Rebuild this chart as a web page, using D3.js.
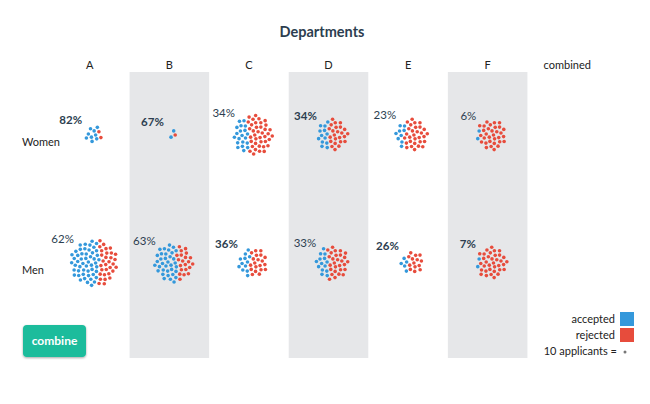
<!DOCTYPE html>
<html><head><meta charset="utf-8">
<script src="https://cdn.jsdelivr.net/npm/d3@7"></script>
<style>
html,body{margin:0;padding:0;background:#fff;}
svg{display:block;font-family:Lato,"Open Sans",sans-serif;}
</style></head>
<body><svg id="chart" width="650" height="404"></svg>
<script>
const departments = ["A","B","C","D","E","F"];
const columns = ["A","B","C","D","E","F","combined"];
const genders = ["Women","Men"];
const womenAccepted = [9,2,20,13,9,2];
const womenRejected = [2,1,39,24,30,32];
const menAccepted = [51,35,12,14,5,2];
const menRejected = [31,21,20,28,14,35];
const womenPct = [82,67,34,34,23,6];
const menPct = [62,63,36,33,26,7];
const legendLabels = ["accepted","rejected"];

const BLUE = "#3498db", RED = "#e74c3c", TEXT = "#2c3e50";
const svg = d3.select("#chart");

const x = d3.scaleBand().domain(columns).range([50, 607]);
const y = d3.scalePoint().domain(genders).range([135, 263]);
const shaded = ["B","D","F"];

svg.selectAll("rect.band").data(shaded).join("rect")
  .attr("x", d => x(d)).attr("y", 72).attr("width", x.bandwidth()).attr("height", 286)
  .attr("fill", "#e6e7e9");

svg.append("text").attr("x", 322).attr("y", 37).attr("text-anchor","middle")
  .attr("font-size", 14.5).attr("font-weight", "bold").attr("fill", TEXT).text("Departments");

svg.selectAll("text.col").data(columns).join("text")
  .attr("x", d => x(d) + x.bandwidth()/2).attr("y", 69).attr("text-anchor","middle")
  .attr("font-size", 11).attr("fill", "#222").text(d => d);

svg.selectAll("text.row").data(genders).join("text")
  .attr("x", 22).attr("y", d => y(d) + 11).attr("font-size", 11).attr("fill", "#222").text(d => d);

const c = 2.6, golden = Math.PI * (3 - Math.sqrt(5));
function cluster(acc, rej) {
  const n = acc + rej;
  const pts = d3.range(n).map(i => {
    const r = c * Math.sqrt(i + 0.5), a = i * golden;
    return {x: r * Math.cos(a), y: r * Math.sin(a)};
  });
  pts.sort((p, q) => p.x - q.x);
  pts.forEach((p, i) => p.acc = i < acc);
  return {pts, r: c * Math.sqrt(n)};
}

const groups = [];
departments.forEach((d, i) => {
  groups.push({dept: d, g: "Women", acc: womenAccepted[i], rej: womenRejected[i], pct: womenPct[i], bold: womenPct[i] > menPct[i]});
  groups.push({dept: d, g: "Men", acc: menAccepted[i], rej: menRejected[i], pct: menPct[i], bold: menPct[i] > womenPct[i]});
});

groups.forEach(gr => {
  const cl = cluster(gr.acc, gr.rej);
  const cx = x(gr.dept) + x.bandwidth()/2 + 4, cy = y(gr.g);
  const g = svg.append("g").attr("transform", `translate(${cx},${cy})`);
  g.selectAll("circle").data(cl.pts).join("circle")
    .attr("cx", p => p.x).attr("cy", p => p.y).attr("r", 1.8)
    .attr("fill", p => p.acc ? BLUE : RED);
  g.append("text").attr("x", -0.55 * cl.r - 7).attr("y", -0.6 * cl.r - 6)
    .attr("text-anchor", "end").attr("font-size", 11.5)
    .attr("font-weight", gr.bold ? "bold" : "normal").attr("fill", TEXT)
    .text(gr.pct + "%");
});

// legend
const lg = svg.append("g");
lg.selectAll("rect").data(legendLabels).join("rect")
  .attr("x", 620).attr("y", (d, i) => 312 + i * 16).attr("width", 14).attr("height", 14)
  .attr("fill", (d, i) => i ? RED : BLUE);
lg.selectAll("text").data(legendLabels.concat(["10 applicants ="])).join("text")
  .attr("x", (d, i) => i < 2 ? 615 : 617).attr("y", (d, i) => 323 + i * 16)
  .attr("text-anchor", "end").attr("font-size", 11).attr("fill", "#222").text(d => d);
lg.append("circle").attr("cx", 625).attr("cy", 352).attr("r", 1.5).attr("fill", "#777");

// button
const defs = svg.append("defs");
const f = defs.append("filter").attr("id","sh").attr("x","-20%").attr("y","-20%").attr("width","140%").attr("height","150%");
f.append("feDropShadow").attr("dx",0).attr("dy",1).attr("stdDeviation",1.2).attr("flood-color","#000").attr("flood-opacity",0.35);
svg.append("rect").attr("x", 23).attr("y", 325).attr("width", 63).attr("height", 32).attr("rx", 4)
  .attr("fill", "#1abc9c").attr("filter","url(#sh)");
svg.append("text").attr("x", 54.5).attr("y", 345).attr("text-anchor","middle")
  .attr("font-size", 12).attr("font-weight","bold").attr("fill","#fff").text("combine");
</script></body></html>
